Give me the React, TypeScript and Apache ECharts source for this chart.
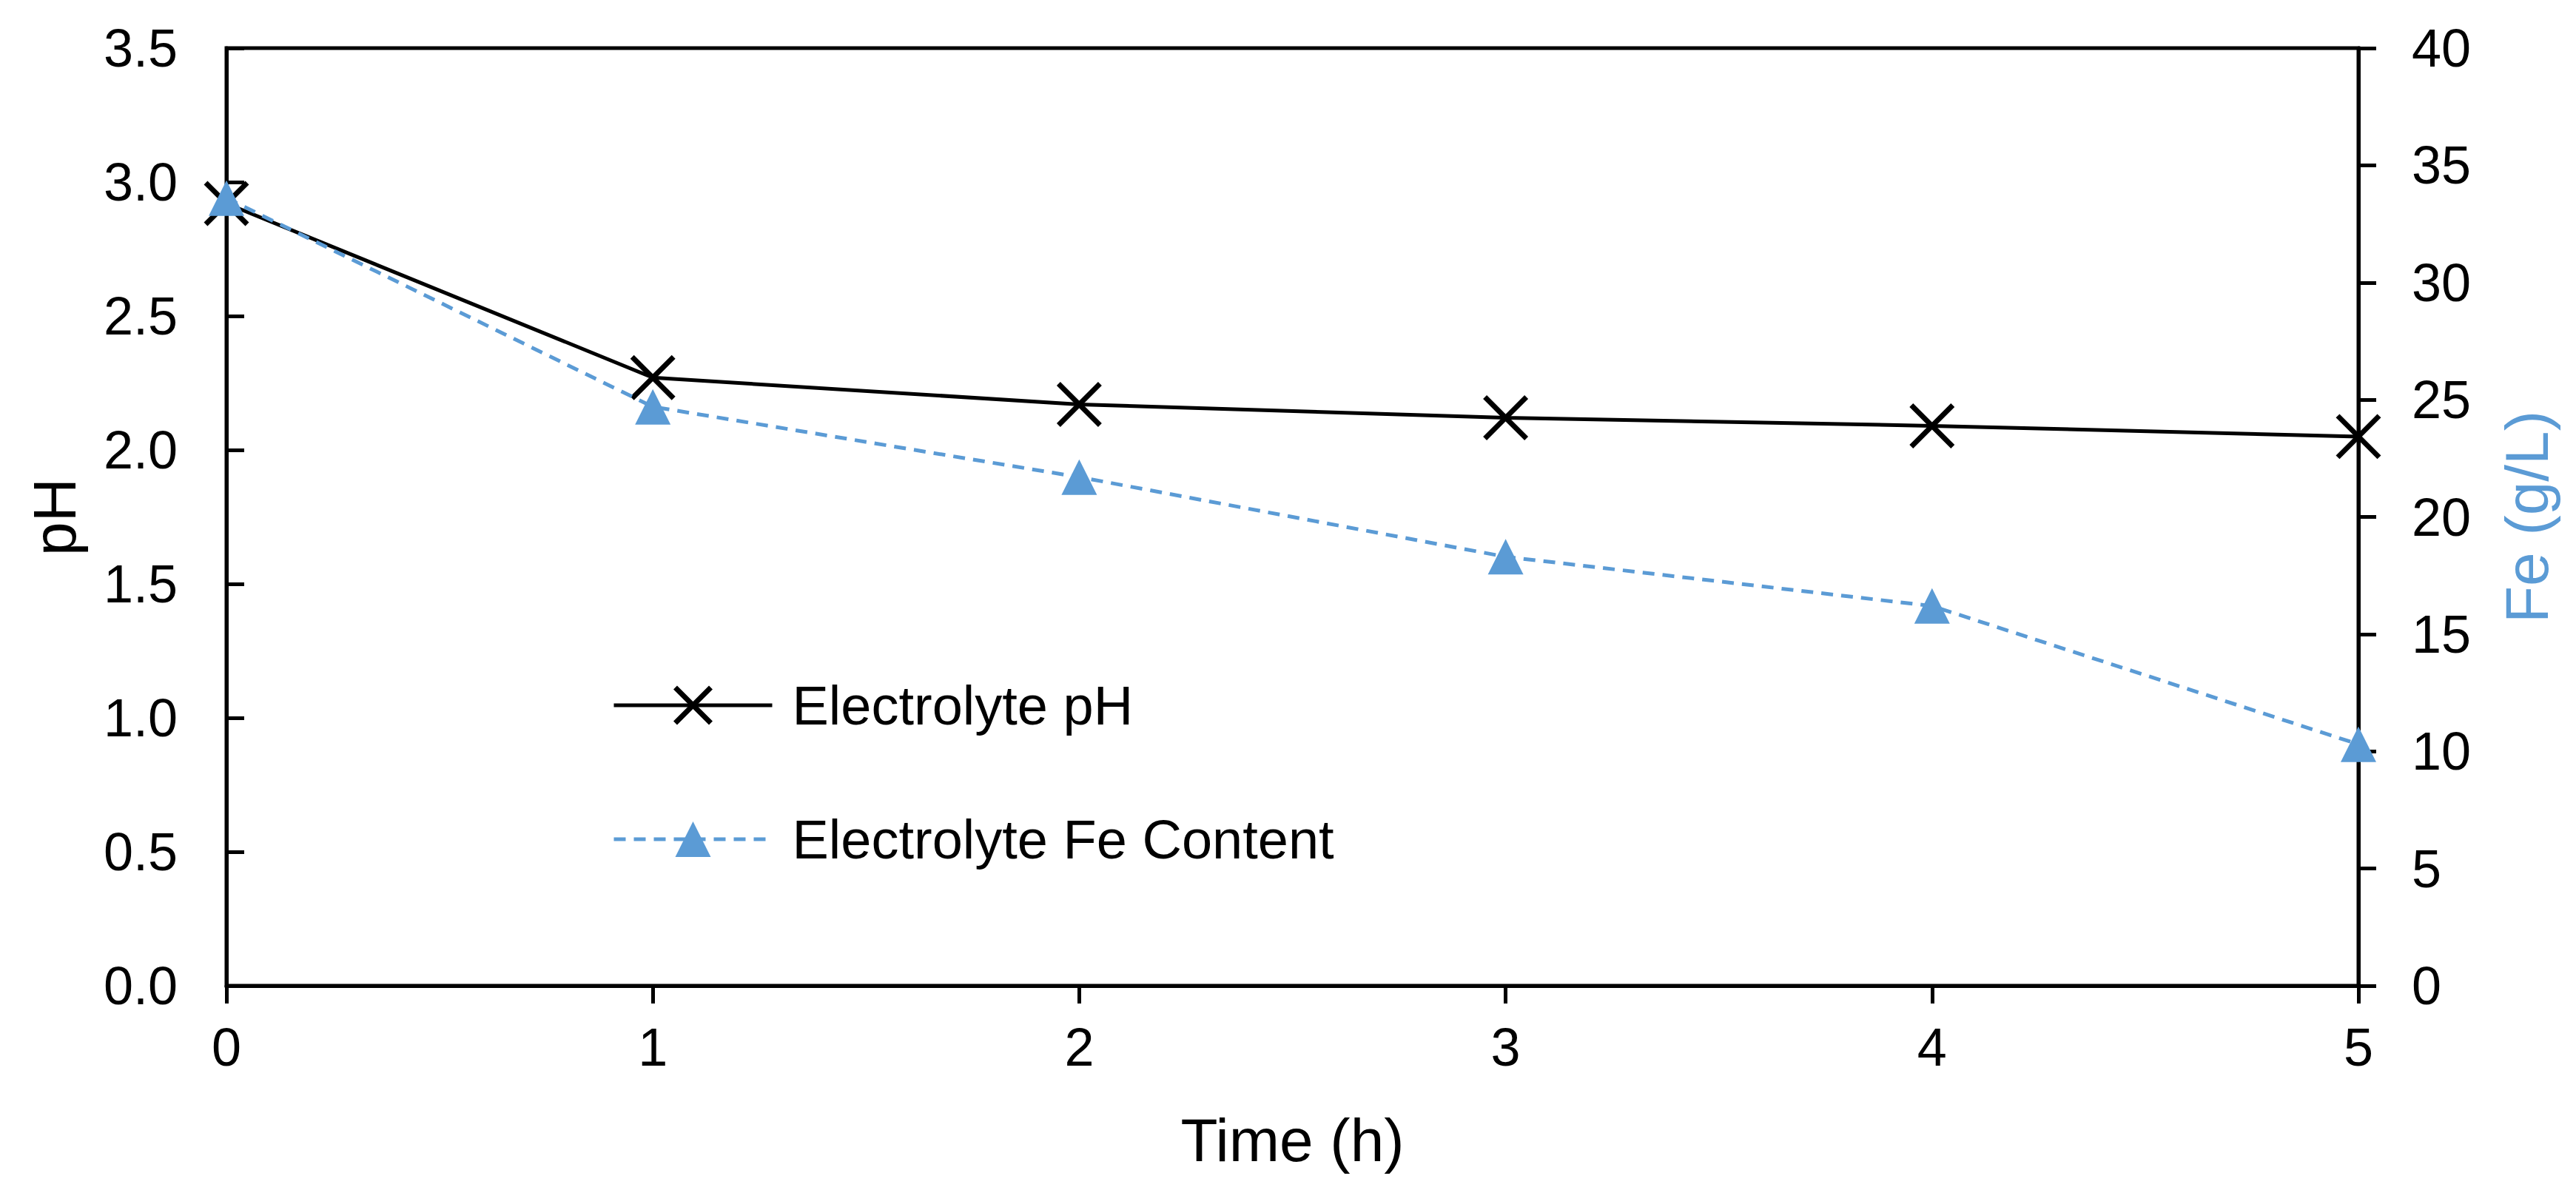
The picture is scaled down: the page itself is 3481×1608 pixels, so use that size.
import React, { useEffect, useRef } from "react";
import * as echarts from "echarts";

const timeH = [0, 1, 2, 3, 4, 5];
const phValues = [2.92, 2.27, 2.17, 2.12, 2.09, 2.05];
const feValues = [33.6, 24.7, 21.7, 18.3, 16.2, 10.3];
const seriesNames = ["Electrolyte pH", "Electrolyte Fe Content"];
const xTitle = "Time (h)";
const leftTitle = "pH";
const rightTitle = "Fe (g/L)";

const FONT = "'Liberation Sans', Arial, Helvetica, sans-serif";
const BLUE = "#5B9BD5";
const DASH = [16, 11];

export default function App() {
  const ref = useRef<HTMLDivElement>(null);

  useEffect(() => {
    document.body.style.margin = "0";
    if (!ref.current) return;
    const chart = echarts.init(ref.current, undefined, { renderer: "svg" });
    const option: any = {
      animation: false,
      backgroundColor: "#ffffff",
      textStyle: { fontFamily: FONT },
      grid: {
        left: 306,
        right: 294,
        top: 65,
        bottom: 276,
        show: true,
        borderColor: "#000",
        borderWidth: 5,
        containLabel: false,
        outerBoundsMode: "none",
      },
      legend: {
        orient: "vertical",
        left: 822,
        top: 911,
        itemWidth: 214,
        itemHeight: 60,
        itemGap: 107,
        data: [
          {
            name: seriesNames[0],
            itemStyle: { color: "#000", borderColor: "#000", borderWidth: 7 },
            lineStyle: { color: "#000", width: 5 },
          },
          {
            name: seriesNames[1],
            itemStyle: { color: BLUE, borderWidth: 0 },
            lineStyle: { color: BLUE, width: 5, type: DASH },
          },
        ],
        textStyle: {
          fontFamily: FONT,
          fontSize: 74,
          color: "#000",
          padding: [0, 0, 0, 22],
        },
      },
      xAxis: {
        type: "value",
        min: 0,
        max: 5,
        interval: 1,
        name: xTitle,
        nameLocation: "middle",
        nameGap: 167,
        nameTextStyle: { fontFamily: FONT, fontSize: 82, color: "#000" },
        axisLine: { show: true, lineStyle: { color: "#000", width: 5 } },
        axisTick: { show: true, length: 24, lineStyle: { color: "#000", width: 5 } },
        axisLabel: { fontFamily: FONT, fontSize: 72, color: "#000", margin: 47 },
        splitLine: { show: false },
      },
      yAxis: [
        {
          type: "value",
          position: "left",
          min: 0,
          max: 3.5,
          interval: 0.5,
          name: leftTitle,
          nameLocation: "middle",
          nameRotate: 90,
          nameGap: 192,
          nameTextStyle: { fontFamily: FONT, fontSize: 82, color: "#000" },
          axisLine: { show: true, lineStyle: { color: "#000", width: 5 } },
          axisTick: { show: true, inside: true, length: 24, lineStyle: { color: "#000", width: 5 } },
          axisLabel: {
            fontFamily: FONT,
            fontSize: 72,
            color: "#000",
            margin: 66,
            formatter: (v: number) => v.toFixed(1),
          },
          splitLine: { show: false },
        },
        {
          type: "value",
          position: "right",
          min: 0,
          max: 40,
          interval: 5,
          name: rightTitle,
          nameLocation: "middle",
          nameRotate: 90,
          nameGap: 186,
          nameTextStyle: { fontFamily: FONT, fontSize: 82, color: BLUE },
          axisLine: { show: true, lineStyle: { color: "#000", width: 5 } },
          axisTick: { show: true, inside: false, length: 24, lineStyle: { color: "#000", width: 5 } },
          axisLabel: { fontFamily: FONT, fontSize: 72, color: "#000", margin: 72 },
          splitLine: { show: false },
        },
      ],
      series: [
        {
          name: seriesNames[0],
          type: "line",
          xAxisIndex: 0,
          yAxisIndex: 0,
          data: timeH.map((t, i) => [t, phValues[i]]),
          symbol: "path://M0,0L100,100M100,0L0,100",
          symbolSize: 56,
          showAllSymbol: true,
          lineStyle: { color: "#000", width: 5 },
          itemStyle: { color: "#000", borderColor: "#000", borderWidth: 7 },
          z: 2,
        },
        {
          name: seriesNames[1],
          type: "line",
          xAxisIndex: 0,
          yAxisIndex: 1,
          data: timeH.map((t, i) => [t, feValues[i]]),
          symbol: "triangle",
          symbolSize: [48, 48],
          showAllSymbol: true,
          lineStyle: { color: BLUE, width: 5, type: DASH },
          itemStyle: { color: BLUE },
          z: 3,
        },
      ],
    };
    chart.setOption(option);
    return () => {
      chart.dispose();
    };
  }, []);

  return <div ref={ref} style={{ width: 3481, height: 1608 }} />;
}
